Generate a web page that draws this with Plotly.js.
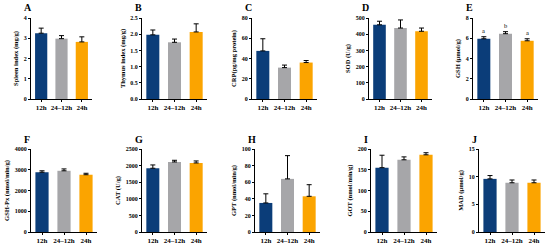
<!DOCTYPE html>
<html>
<head>
<meta charset="utf-8">
<script src="https://cdn.plot.ly/plotly-3.0.1.min.js"></script>
<style>body{margin:0;padding:0;background:#fff}</style>
</head>
<body>
<div id="chart" style="width:550px;height:249px"></div>
<script>
// groups on every panel
const groups = ['12h', '24\u201312h', '24h']
const barColors = ['#0b3d79', '#a6a6a9', '#fba400']

// panel letters, y titles, means and error bars (SD, drawn upward)
const panelLetters = ['A', 'B', 'C', 'D', 'E', 'F', 'G', 'H', 'I', 'J']
const yTitles = ['Spleen index (mg/g)', 'Thymus index (mg/g)', 'CRP(pg/mg protein)', 'SOD (U/g)', 'GSH (\u03bcmol/g)',
  'GSH-Px (nmol/min/g)', 'CAT (U/g)', 'GPT (nmol/min/g)', 'GOT (nmol/min/g)', 'MAD (\u03bcmol/g)']
const spleen = [3.25, 2.98, 2.82], spleenSd = [0.25, 0.15, 0.25]
const thymus = [1.98, 1.75, 2.07], thymusSd = [0.15, 0.10, 0.25]
const crp = [47.5, 31, 36], crpSd = [12, 2.5, 2]
const sod = [458, 438, 418], sodSd = [22, 50, 20]
const gsh = [5.95, 6.45, 5.75], gshSd = [0.2, 0.2, 0.2]
const gshPx = [2880, 2950, 2760], gshPxSd = [70, 90, 70]
const cat = [1920, 2110, 2080], catSd = [100, 50, 60]
const gpt = [35, 64, 43], gptSd = [11, 28, 14]
const got = [155, 174, 186], gotSd = [30, 7, 5]
const mad = [9.6, 8.9, 8.9], madSd = [0.6, 0.5, 0.5]
const gshLetters = ['a', 'b', 'a']

const means = [spleen, thymus, crp, sod, gsh, gshPx, cat, gpt, got, mad]
const sds = [spleenSd, thymusSd, crpSd, sodSd, gshSd, gshPxSd, catSd, gptSd, gotSd, madSd]
const yMax = [4, 2.5, 80, 500, 8, 4000, 2500, 100, 200, 15]
const yStep = [1, 0.5, 20, 100, 2, 1000, 500, 20, 50, 5]
const yFmt = ['', '.1f', '', '', '', '', '', '', '', '']

// pixel positions of each plot area (left, right)
const xPix = [[31, 92], [142, 207], [252, 317], [369, 432], [473, 538],
  [31, 97], [142, 207], [255, 320], [371, 437], [479, 545]]
const rowPix = [[18, 99], [149, 232]]
const W = 550, H = 249

const font = 'Liberation Serif, Times New Roman, serif'
let data = []
let layout = {
  width: W, height: H,
  margin: {l: 0, r: 0, t: 0, b: 0},
  paper_bgcolor: '#fff', plot_bgcolor: '#fff',
  showlegend: false,
  bargap: 0.4,
  font: {family: font, color: '#000', size: 6},
  annotations: []
}

for (let i = 0; i < 10; i++) {
  let n = i + 1
  let sfx = n == 1 ? '' : n
  let row = i < 5 ? 0 : 1
  data.push({
    type: 'bar',
    x: groups,
    y: means[i],
    xaxis: 'x' + sfx,
    yaxis: 'y' + sfx,
    marker: {color: barColors, line: {width: 0}},
    error_y: {type: 'data', symmetric: false, array: sds[i], arrayminus: [0, 0, 0],
      color: '#000', thickness: 1, width: 2.5}
  })
  let dx = [xPix[i][0] / W, xPix[i][1] / W]
  let dy = [1 - rowPix[row][1] / H, 1 - rowPix[row][0] / H]
  layout['xaxis' + sfx] = {
    domain: dx, anchor: 'y' + sfx,
    showline: true, linecolor: '#000', linewidth: 1,
    ticks: 'outside', ticklen: 2, tickcolor: '#000',
    tickfont: {family: font, size: 7, weight: 'bold'},
    showgrid: false, zeroline: false, fixedrange: true
  }
  layout['yaxis' + sfx] = {
    domain: dy, anchor: 'x' + sfx,
    range: [0, yMax[i]], dtick: yStep[i], tickformat: yFmt[i],
    showline: true, linecolor: '#000', linewidth: 1,
    ticks: 'outside', ticklen: 2, tickcolor: '#000',
    tickfont: {family: font, size: 6, weight: 'bold'},
    showgrid: false, zeroline: false,
    title: {text: yTitles[i], font: {family: font, size: 6.5, weight: 'bold'}, standoff: 4}
  }
  layout.annotations.push({
    text: panelLetters[i], xref: 'paper', yref: 'paper',
    x: (xPix[i][0] - 9) / W, y: 1 - (rowPix[row][0] - 10) / H,
    xanchor: 'left', yanchor: 'middle', showarrow: false,
    font: {family: font, size: 10, weight: 'bold'}
  })
}

for (let k = 0; k < 3; k++) {
  layout.annotations.push({
    text: gshLetters[k], xref: 'x5', yref: 'y5',
    x: groups[k], y: gsh[k] + gshSd[k],
    yanchor: 'bottom', showarrow: false, yshift: 1,
    font: {family: font, size: 6.5}
  })
}

Plotly.newPlot('chart', data, layout, {staticPlot: true})
</script>
</body>
</html>
